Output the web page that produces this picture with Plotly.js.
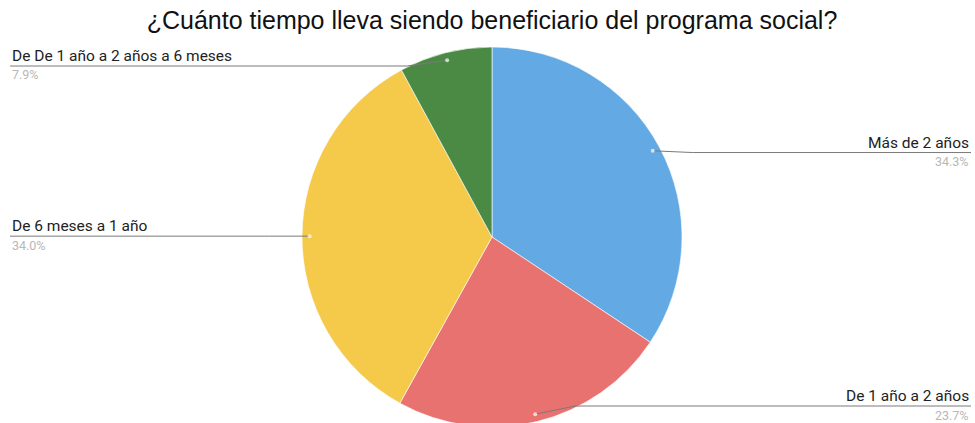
<!DOCTYPE html>
<html>
<head>
<meta charset="utf-8">
<script src="https://cdn.plot.ly/plotly-3.0.1.min.js"></script>
<style>
html,body{margin:0;padding:0;overflow:hidden;background:#fff;}
#chart{width:975px;height:470px;}
</style>
</head>
<body>
<div id="chart"></div>
<script>
const titleText = '¿Cuánto tiempo lleva siendo beneficiario del programa social?';
const labels = ['Más de 2 años', 'De 1 año a 2 años', 'De 6 meses a 1 año', 'De De 1 año a 2 años a 6 meses'];
const values = [34.3, 23.7, 34.0, 7.9];
const percentLabels = ['34.3%', '23.7%', '34.0%', '7.9%'];
const colors = ['#63a9e3', '#e8726f', '#f5c94a', '#4b8a45'];

const W = 975, H = 470;
const cx = 492, cy = 237, R = 190;
const px = x => x / W;
const py = y => 1 - y / H;

const total = values.reduce((a, b) => a + b, 0);
const shapes = [];
const annotations = [];
let cum = 0;
values.forEach((v, i) => {
  const mid = (cum + v / 2) / total * 2 * Math.PI;
  cum += v;
  const dx = Math.sin(mid) * R * 0.96;
  const dy = -Math.cos(mid) * R * 0.96;
  const dotX = cx + dx, dotY = cy + dy;
  // leader line bends slightly toward the vertical middle, staying inside the view
  const lineY = Math.min(Math.max(dotY + (cy - dotY) * 0.02, 66), 406);
  const left = dx < 0;
  const endX = left ? 10 : 971;
  const bendX = dotX + (left ? -40 : 40);
  shapes.push({type: 'line', xref: 'paper', yref: 'paper',
    x0: px(dotX), y0: py(dotY), x1: px(bendX), y1: py(lineY),
    line: {color: '#7a7a7a', width: 1}});
  shapes.push({type: 'line', xref: 'paper', yref: 'paper',
    x0: px(bendX), y0: py(lineY), x1: px(endX), y1: py(lineY),
    line: {color: '#7a7a7a', width: 1}});
  shapes.push({type: 'circle', xref: 'paper', yref: 'paper',
    x0: px(dotX - 2), y0: py(dotY - 2), x1: px(dotX + 2), y1: py(dotY + 2),
    fillcolor: 'rgba(255,255,255,0.7)', line: {width: 0}});
  annotations.push({xref: 'paper', yref: 'paper', x: px(endX), y: py(lineY),
    xanchor: left ? 'left' : 'right', yanchor: 'middle', yshift: 10,
    showarrow: false, text: labels[i],
    font: {family: 'Roboto, Arial, sans-serif', size: 15.5, color: '#222222'}});
  annotations.push({xref: 'paper', yref: 'paper', x: px(endX), y: py(lineY),
    xanchor: left ? 'left' : 'right', yanchor: 'middle', yshift: -9,
    showarrow: false, text: percentLabels[i],
    font: {family: 'Roboto, Arial, sans-serif', size: 12.5, color: '#b8b8b8'}});
});

const trace = {
  type: 'pie',
  labels: labels,
  values: values,
  sort: false,
  direction: 'clockwise',
  rotation: 0,
  textinfo: 'none',
  hoverinfo: 'none',
  showlegend: false,
  marker: {colors: colors, line: {color: 'rgba(255,255,255,0.6)', width: 1}},
  domain: {x: [px(cx - R), px(cx + R)], y: [py(cy + R), py(cy - R)]}
};

const layout = {
  width: W, height: H,
  margin: {l: 0, r: 0, t: 0, b: 0},
  paper_bgcolor: '#ffffff',
  title: {text: titleText, x: px(cx), xanchor: 'center', y: py(20), yanchor: 'middle',
    font: {family: 'Liberation Sans, Arial, sans-serif', size: 25, color: '#111111'}},
  shapes: shapes,
  annotations: annotations
};

Plotly.newPlot('chart', [trace], layout, {displayModeBar: false, staticPlot: true});
</script>
</body>
</html>
